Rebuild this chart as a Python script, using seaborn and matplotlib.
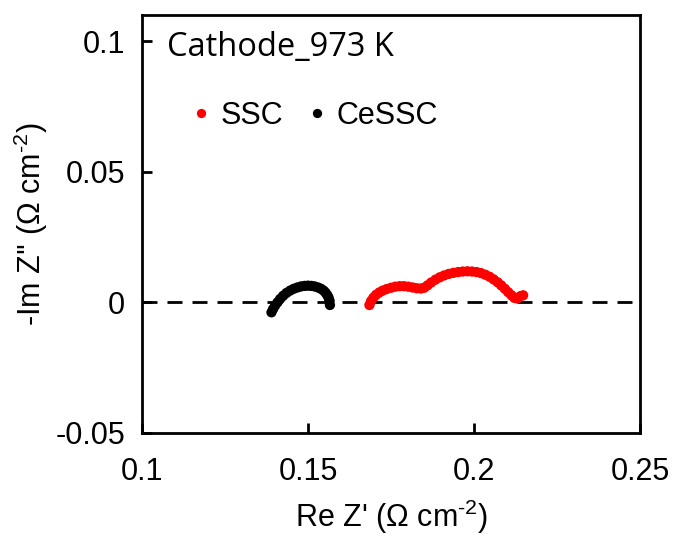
import matplotlib
matplotlib.use("Agg")
import matplotlib.pyplot as plt
import seaborn as sns
import pandas as pd

ssc_x = [0.1685, 0.1690, 0.1697, 0.1705, 0.1715, 0.1725, 0.1737, 0.1750, 0.1763, 0.1776,
         0.1789, 0.1802, 0.1815, 0.1828, 0.1840, 0.1850, 0.1860, 0.1871, 0.1884, 0.1897,
         0.1910, 0.1924, 0.1938, 0.1952, 0.1966, 0.1980, 0.1994, 0.2008, 0.2021, 0.2034,
         0.2047, 0.2059, 0.2071, 0.2082, 0.2093, 0.2103, 0.2113, 0.2122, 0.2130, 0.2140,
         0.2148]
ssc_y = [-0.0010, 0.0005, 0.0018, 0.0029, 0.0038, 0.0045, 0.0051, 0.0056, 0.0060, 0.0062,
         0.0062, 0.0060, 0.0057, 0.0054, 0.0053, 0.0056, 0.0065, 0.0076, 0.0087, 0.0096,
         0.0103, 0.0109, 0.0113, 0.0116, 0.0118, 0.0119, 0.0118, 0.0116, 0.0112, 0.0106,
         0.0098, 0.0088, 0.0077, 0.0065, 0.0052, 0.0039, 0.0027, 0.0017, 0.0015, 0.0024,
         0.0027]
cessc_x = [0.1390, 0.1395, 0.1401, 0.1408, 0.1416, 0.1425, 0.1435, 0.1446, 0.1457, 0.1468,
           0.1479, 0.1490, 0.1500, 0.1510, 0.1520, 0.1530, 0.1539, 0.1547, 0.1553, 0.1558,
           0.1562, 0.1565, 0.1566]
cessc_y = [-0.0038, -0.0025, -0.0012, 0.0000, 0.0013, 0.0025, 0.0036, 0.0045, 0.0052, 0.0057,
           0.0061, 0.0063, 0.0064, 0.0063, 0.0061, 0.0057, 0.0052, 0.0045, 0.0037, 0.0028,
           0.0018, 0.0006, -0.0010]
series = ["SSC", "CeSSC"]
colors = {"SSC": "#ff0000", "CeSSC": "#000000"}
x_ticks = [0.1, 0.15, 0.2, 0.25]
x_tick_labels = ["0.1", "0.15", "0.2", "0.25"]
y_ticks = [-0.05, 0, 0.05, 0.1]
y_tick_labels = ["-0.05", "0", "0.05", "0.1"]

df = pd.concat([
    pd.DataFrame({"x": ssc_x, "y": ssc_y, "s": "SSC"}),
    pd.DataFrame({"x": cessc_x, "y": cessc_y, "s": "CeSSC"}),
])

sns.set_style("white")
plt.rcParams['font.family'] = ['Liberation Sans', 'DejaVu Sans']
plt.rcParams['mathtext.fontset'] = 'custom'
plt.rcParams['mathtext.rm'] = 'Liberation Sans'
plt.rcParams['mathtext.it'] = 'Liberation Sans:italic'
plt.rcParams['text.color'] = 'black'
plt.rcParams['axes.labelcolor'] = 'black'
plt.rcParams['xtick.bottom'] = True
plt.rcParams['ytick.left'] = True
plt.rcParams['xtick.direction'] = 'in'
plt.rcParams['ytick.direction'] = 'in'
plt.rcParams['xtick.major.size'] = 7
plt.rcParams['ytick.major.size'] = 7
plt.rcParams['xtick.major.width'] = 2
plt.rcParams['ytick.major.width'] = 2

fig = plt.figure(figsize=(6.83, 5.35), dpi=100)
ax = fig.add_axes([142/683, 1 - 433/535, 498/683, 418/535])

ax.axhline(0, color="black", lw=2.0, ls=(0, (5.4, 3.6)), zorder=1)
sns.scatterplot(data=df, x="x", y="y", hue="s", hue_order=series, palette=colors,
                s=55, edgecolor="none", ax=ax, zorder=3)

ax.set_xlim(0.1, 0.25)
ax.set_ylim(-0.05, 0.11)
ax.set_xticks(x_ticks)
ax.set_xticklabels(x_tick_labels)
ax.set_yticks(y_ticks)
ax.set_yticklabels(y_tick_labels)
ax.tick_params(axis="both", which="major", direction="in", length=7, width=2.0, labelsize=22,
               colors="black", bottom=True, left=True)
ax.tick_params(axis="x", pad=17)
ax.tick_params(axis="y", pad=12)
for sp in ax.spines.values():
    sp.set_visible(True)
    sp.set_linewidth(2.0)
    sp.set_color("black")

ax.set_xlabel(r"Re Z' ($\Omega$ cm$^{\text{-2}}$)", fontsize=22, labelpad=8)
ax.set_ylabel(r"-Im Z'' ($\Omega$ cm$^{\text{-2}}$)", fontsize=22, labelpad=4)

ax.text(0.05, 0.923, "Cathode_973 K", transform=ax.transAxes, ha="left", va="center",
        fontsize=23.5, color="black", family=["Open Sans", "DejaVu Sans"])

leg = ax.legend(loc="center left", bbox_to_anchor=(0.07, 0.758), ncol=2, frameon=False,
                borderpad=0, handlelength=0.6, handletextpad=0.33, columnspacing=0.8,
                markerscale=0.9, prop={"size": 22})
for t in leg.get_texts():
    t.set_color("black")
fig.savefig("out.png", dpi=100)
